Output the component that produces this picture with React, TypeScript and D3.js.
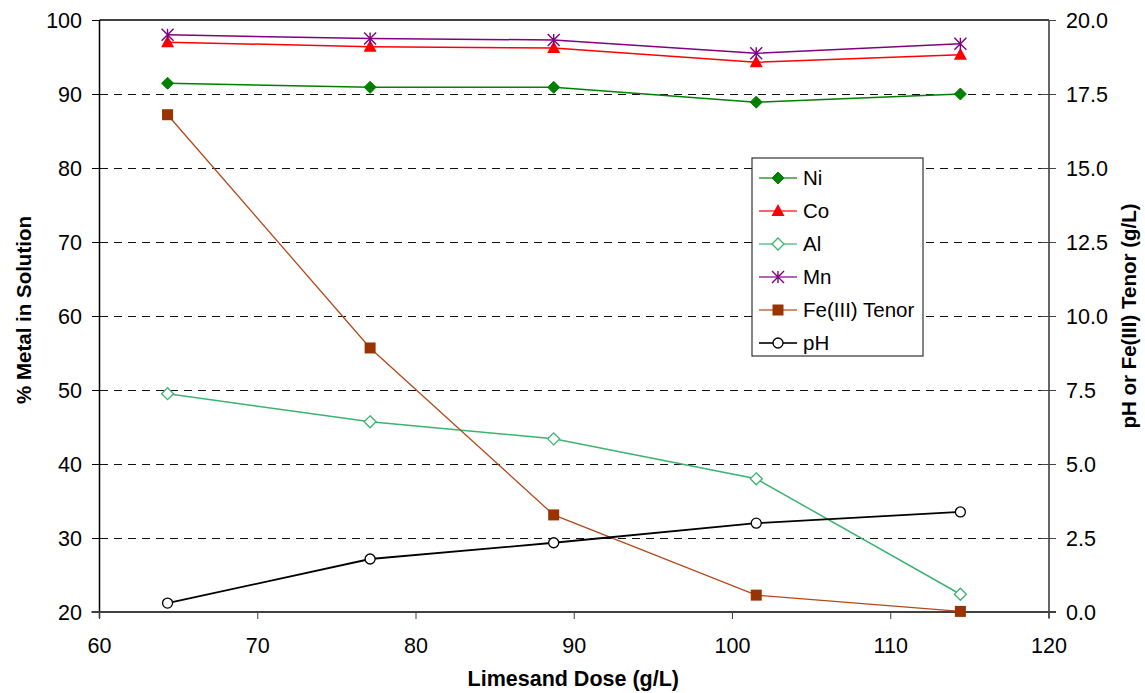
import React, { useEffect, useRef } from 'react';
import * as d3 from 'd3';

// limesand dose (g/L)
const doses = [64.3, 77.1, 88.7, 101.5, 114.4];

// % metal in solution (left axis)
const ni = [91.45, 90.9, 90.9, 88.9, 90.0];
const co = [97.0, 96.4, 96.2, 94.3, 95.3];
const al = [49.5, 45.7, 43.4, 38.0, 22.4];
const mn = [98.0, 97.5, 97.3, 95.5, 96.8];

// right axis: Fe(III) tenor (g/L) and pH
const fe = [16.8, 8.92, 3.28, 0.57, 0.02];
const ph = [0.3, 1.79, 2.34, 3.0, 3.38];

const xTicks = [60, 70, 80, 90, 100, 110, 120];
const leftTicks = [20, 30, 40, 50, 60, 70, 80, 90, 100];
const rightTicks = [0, 2.5, 5, 7.5, 10, 12.5, 15, 17.5, 20];

const FONT = "Arial, 'Liberation Sans', sans-serif";

type Series = {
  name: string;
  values: number[];
  axis: 'left' | 'right';
  color: string;
  marker: string;
  width: number;
};

const series: Series[] = [
  { name: 'Ni', values: ni, axis: 'left', color: '#008000', marker: 'diamond', width: 1.5 },
  { name: 'Co', values: co, axis: 'left', color: '#ff0000', marker: 'triangle', width: 1.5 },
  { name: 'Al', values: al, axis: 'left', color: '#3cb371', marker: 'openDiamond', width: 1.5 },
  { name: 'Mn', values: mn, axis: 'left', color: '#800080', marker: 'star', width: 1.5 },
  { name: 'Fe(III) Tenor', values: fe, axis: 'right', color: '#b04a1c', marker: 'square', width: 1.3 },
  { name: 'pH', values: ph, axis: 'right', color: '#000000', marker: 'circle', width: 1.8 },
];

function drawMarker(g: any, kind: string, cx: number, cy: number, color: string) {
  if (kind === 'diamond' || kind === 'openDiamond') {
    const r = 6;
    g.append('path')
      .attr('d', `M${cx},${cy - r}L${cx + r},${cy}L${cx},${cy + r}L${cx - r},${cy}Z`)
      .attr('fill', kind === 'diamond' ? color : '#fff')
      .attr('stroke', color)
      .attr('stroke-width', kind === 'diamond' ? 1 : 1.3);
  } else if (kind === 'triangle') {
    g.append('path')
      .attr('d', `M${cx},${cy - 7}L${cx + 6.5},${cy + 5}L${cx - 6.5},${cy + 5}Z`)
      .attr('fill', color);
  } else if (kind === 'square') {
    g.append('rect')
      .attr('x', cx - 5.5).attr('y', cy - 5.5)
      .attr('width', 11).attr('height', 11)
      .attr('fill', '#993300');
  } else if (kind === 'circle') {
    g.append('circle')
      .attr('cx', cx).attr('cy', cy).attr('r', 5)
      .attr('fill', '#fff')
      .attr('stroke', color)
      .attr('stroke-width', 1.3);
  } else if (kind === 'star') {
    const r = 6;
    g.append('path')
      .attr('d', `M${cx - r},${cy - r}L${cx + r},${cy + r}M${cx - r},${cy + r}L${cx + r},${cy - r}M${cx},${cy - r}L${cx},${cy + r}`)
      .attr('stroke', color)
      .attr('stroke-width', 1.4)
      .attr('fill', 'none');
  }
}

export default function App() {
  const ref = useRef<SVGSVGElement>(null);

  useEffect(() => {
    const svg = d3.select(ref.current);
    svg.selectAll('*').remove();

    const left = 99.5, right = 1049, top = 20, bottom = 612;

    const x = d3.scaleLinear().domain([60, 120]).range([left, right]);
    const yL = d3.scaleLinear().domain([20, 100]).range([bottom, top]);
    const yR = d3.scaleLinear().domain([0, 20]).range([bottom, top]);

    // gridlines
    svg.append('g')
      .selectAll('line')
      .data(leftTicks.filter(t => t > 20 && t < 100))
      .enter().append('line')
      .attr('x1', left).attr('x2', right)
      .attr('y1', d => yL(d)).attr('y2', d => yL(d))
      .attr('stroke', '#111')
      .attr('stroke-width', 1)
      .attr('shape-rendering', 'crispEdges')
      .attr('stroke-dasharray', '8,6');

    // top border
    svg.append('line')
      .attr('x1', left).attr('x2', right).attr('y1', top).attr('y2', top)
      .attr('stroke', '#000').attr('stroke-width', 1.5);

    // left axis
    const gl = svg.append('g');
    gl.append('line').attr('x1', left).attr('x2', left).attr('y1', top).attr('y2', bottom + 6)
      .attr('stroke', '#000').attr('stroke-width', 1.5);
    leftTicks.forEach(t => {
      gl.append('line').attr('x1', left - 8).attr('x2', left).attr('y1', yL(t)).attr('y2', yL(t))
        .attr('stroke', '#000').attr('stroke-width', 1).attr('shape-rendering', 'crispEdges');
      gl.append('text').attr('x', 82).attr('y', yL(t)).attr('dy', '0.36em')
        .attr('text-anchor', 'end').attr('font-family', FONT).attr('font-size', 21.5)
        .text(String(t));
    });

    // right axis
    const gr = svg.append('g');
    gr.append('line').attr('x1', right).attr('x2', right).attr('y1', top).attr('y2', bottom + 6)
      .attr('stroke', '#333').attr('stroke-width', 1.5);
    rightTicks.forEach(t => {
      gr.append('line').attr('x1', right - 8).attr('x2', right + 7).attr('y1', yR(t)).attr('y2', yR(t))
        .attr('stroke', '#444').attr('stroke-width', 1).attr('shape-rendering', 'crispEdges');
      gr.append('text').attr('x', 1066).attr('y', yR(t)).attr('dy', '0.36em')
        .attr('text-anchor', 'start').attr('font-family', FONT).attr('font-size', 21.5)
        .text(d3.format('.1f')(t));
    });

    // bottom axis
    const gb = svg.append('g');
    gb.append('line').attr('x1', left - 8).attr('x2', right + 7).attr('y1', bottom).attr('y2', bottom)
      .attr('stroke', '#404040').attr('stroke-width', 2);
    xTicks.forEach(t => {
      gb.append('line').attr('x1', x(t)).attr('x2', x(t)).attr('y1', bottom).attr('y2', bottom + 7)
        .attr('stroke', '#404040').attr('stroke-width', 1);
      gb.append('text').attr('x', x(t)).attr('y', 653)
        .attr('text-anchor', 'middle').attr('font-family', FONT).attr('font-size', 21.5)
        .text(String(t));
    });

    // axis titles
    svg.append('text')
      .attr('transform', `translate(${x(90) - 1},686)`)
      .attr('text-anchor', 'middle').attr('font-family', FONT).attr('font-size', 21.5)
      .attr('font-weight', 'bold')
      .text('Limesand Dose (g/L)');
    svg.append('text')
      .attr('transform', `translate(31,${(top + bottom) / 2 - 6}) rotate(-90)`)
      .attr('text-anchor', 'middle').attr('font-family', FONT).attr('font-size', 20.5)
      .attr('font-weight', 'bold')
      .text('% Metal in Solution');
    svg.append('text')
      .attr('transform', `translate(1136,${(top + bottom) / 2}) rotate(-90)`)
      .attr('text-anchor', 'middle').attr('font-family', FONT).attr('font-size', 20.5)
      .attr('font-weight', 'bold')
      .text('pH or Fe(III) Tenor (g/L)');

    // series
    series.forEach(s => {
      const yS = s.axis === 'left' ? yL : yR;
      const line = d3.line<number>()
        .x((_, i) => x(doses[i]))
        .y(d => yS(d));
      const g = svg.append('g');
      g.append('path')
        .datum(s.values)
        .attr('d', line)
        .attr('fill', 'none')
        .attr('stroke', s.color)
        .attr('stroke-width', s.width);
      s.values.forEach((v, i) => drawMarker(g, s.marker, x(doses[i]), yS(v), s.color));
    });

    // legend
    const lg = svg.append('g');
    lg.append('rect')
      .attr('x', 752).attr('y', 158).attr('width', 171).attr('height', 198)
      .attr('fill', '#fff').attr('stroke', '#333').attr('stroke-width', 1.2);
    series.forEach((s, i) => {
      const yy = 178 + i * 33;
      lg.append('line').attr('x1', 759).attr('x2', 797).attr('y1', yy).attr('y2', yy)
        .attr('stroke', s.color).attr('stroke-width', s.width).attr('stroke-opacity', 0.8);
      drawMarker(lg, s.marker, 778, yy, s.color);
      lg.append('text').attr('x', 803).attr('y', yy).attr('dy', '0.36em')
        .attr('font-family', FONT).attr('font-size', 20.5)
        .text(s.name);
    });
  }, []);

  return (
    <svg
      ref={ref}
      width={1145}
      height={693}
      style={{ position: 'absolute', left: 0, top: 0, background: '#fff' }}
    />
  );
}
